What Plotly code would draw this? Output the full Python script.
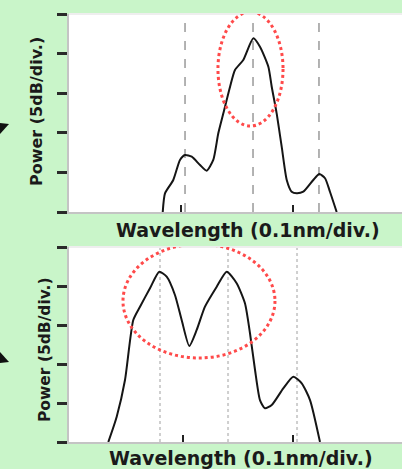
import plotly.graph_objects as go

# ---- data (x in divisions of 0.1 nm, y in dB) ----
top_x = [0.837, 0.857, 0.931, 0.991, 1.036, 1.096, 1.170, 1.229, 1.288, 1.333, 1.378,
         1.438, 1.482, 1.556, 1.646, 1.705, 1.780, 1.810, 1.854, 1.899, 1.944, 1.988,
         2.033, 2.092, 2.181, 2.235, 2.286, 2.330, 2.390]
top_y = [0, 2.36, 4.04, 6.57, 7.20, 6.98, 5.93, 5.21, 6.57, 9.94, 12.46,
         15.82, 17.93, 19.19, 21.93, 20.87, 18.35, 15.82, 12.46, 8.25, 4.04, 2.56,
         2.36, 2.56, 4.04, 4.80, 4.26, 2.56, 0]
top_marks = [1.036, 1.643, 2.232]

bot_x = [0.351, 0.426, 0.500, 0.574, 0.634, 0.723, 0.806, 0.872, 0.946, 1.006, 1.074,
         1.140, 1.214, 1.319, 1.408, 1.497, 1.571, 1.616, 1.661, 1.705, 1.750, 1.810,
         1.913, 2.003, 2.078, 2.152, 2.241]
bot_y = [0, 3.24, 7.95, 15.64, 17.35, 19.71, 21.83, 21.19, 18.85, 15.64, 12.31,
         14.36, 17.35, 19.91, 21.83, 20.35, 17.78, 13.94, 9.23, 5.38, 4.32, 4.74,
         6.88, 8.37, 7.53, 5.38, 0]
bot_marks = [0.8125, 1.420, 2.036]

y_ticks = [0, 5, 10, 15, 20, 25]
top_xticks = [1.0, 2.0]
bot_xticks = [1.02, 2.0]
x_title = "Wavelength (0.1nm/div.)"
y_title = "Power (5dB/div.)"

W, H = 402, 469
XR = [0, (402 - 69) / 112]
YR = [0, 25]

fig = go.Figure()

# vertical marker lines
for xm in top_marks:
    fig.add_trace(go.Scatter(x=[xm, xm], y=YR, mode="lines",
                             line=dict(color="#a0a0a0", width=1.6, dash="dash"),
                             xaxis="x", yaxis="y", showlegend=False, hoverinfo="skip"))
for xm in bot_marks:
    fig.add_trace(go.Scatter(x=[xm, xm], y=YR, mode="lines",
                             line=dict(color="#cfcfcf", width=2, dash="dot"),
                             xaxis="x2", yaxis="y2", showlegend=False, hoverinfo="skip"))

fig.add_trace(go.Scatter(x=top_x, y=top_y, mode="lines",
                         line=dict(color="#151515", width=2, shape="spline", smoothing=0.6),
                         xaxis="x", yaxis="y", showlegend=False))
fig.add_trace(go.Scatter(x=bot_x, y=bot_y, mode="lines",
                         line=dict(color="#151515", width=2, shape="spline", smoothing=0.6),
                         xaxis="x2", yaxis="y2", showlegend=False))

axis_common = dict(showgrid=False, zeroline=False, showline=True, linecolor="#c4c4c4",
                   linewidth=2, showticklabels=False, fixedrange=True)

fig.update_layout(
    width=W, height=H,
    margin=dict(l=0, r=0, t=0, b=0),
    paper_bgcolor="#c9f5c9",
    plot_bgcolor="#ffffff",
    xaxis=dict(domain=[69 / W, 1], range=XR, anchor="y", tickvals=top_xticks,
               ticks="inside", ticklen=7, tickwidth=2, tickcolor="#222", **axis_common),
    yaxis=dict(domain=[1 - 212 / H, 1 - 14 / H], range=YR, anchor="x", tickvals=y_ticks,
               ticks="outside", ticklen=10, tickwidth=3, tickcolor="#2a2a2a", **axis_common),
    xaxis2=dict(domain=[69 / W, 1], range=XR, anchor="y2", tickvals=bot_xticks,
                ticks="inside", ticklen=7, tickwidth=2, tickcolor="#222", **axis_common),
    yaxis2=dict(domain=[1 - 442 / H, 1 - 247 / H], range=YR, anchor="x2", tickvals=y_ticks,
                ticks="outside", ticklen=10, tickwidth=3, tickcolor="#2a2a2a", **axis_common),
)

# top border light line
fig.add_shape(type="line", xref="paper", yref="paper", x0=69 / W, x1=1,
              y0=1 - 14 / H, y1=1 - 14 / H, line=dict(color="#eeeeee", width=2))
fig.add_shape(type="line", xref="paper", yref="paper", x0=69 / W, x1=1,
              y0=1 - 247 / H, y1=1 - 247 / H, line=dict(color="#eeeeee", width=2))

# red dotted ellipses
fig.add_shape(type="circle", xref="x", yref="y", x0=1.330, x1=1.911, y0=10.86, y1=25.25,
              line=dict(color="#ff4a4a", width=3, dash="dot"))
fig.add_shape(type="circle", xref="x2", yref="y2", x0=0.482, x1=1.839, y0=10.77, y1=25.38,
              line=dict(color="#ff4a4a", width=3, dash="dot"))

# small arrow-tip fragments at the left edge
fig.add_shape(type="path", xref="paper", yref="paper",
              path=f"M 0 {1-123/H} L {9/W} {1-124/H} L 0 {1-134/H} Z",
              fillcolor="#111", line=dict(width=0))
fig.add_shape(type="path", xref="paper", yref="paper",
              path=f"M 0 {1-363/H} L {9/W} {1-362/H} L 0 {1-352/H} Z",
              fillcolor="#111", line=dict(width=0))

font = dict(family="DejaVu Sans, sans-serif", size=16, color="#1a1a1a", weight="bold")
fig.add_annotation(text=x_title, xref="paper", yref="paper", x=248 / W, y=1 - 230 / H,
                   showarrow=False, font=dict(font, size=19), xanchor="center", yanchor="middle")
fig.add_annotation(text=x_title, xref="paper", yref="paper", x=241 / W, y=1 - 458 / H,
                   showarrow=False, font=dict(font, size=19), xanchor="center", yanchor="middle")
fig.add_annotation(text=y_title, xref="paper", yref="paper", x=36 / W, y=1 - 112 / H,
                   showarrow=False, font=font, textangle=-90, xanchor="center", yanchor="middle")
fig.add_annotation(text=y_title, xref="paper", yref="paper", x=45 / W, y=1 - 350 / H,
                   showarrow=False, font=dict(font, size=15.5), textangle=-90,
                   xanchor="center", yanchor="middle")

fig.write_html("out.html",
               config={"displayModeBar": False, "staticPlot": True},
               post_script="document.body.style.margin='0';document.body.style.padding='0';"
                           "document.body.style.background='#c9f5c9';")
